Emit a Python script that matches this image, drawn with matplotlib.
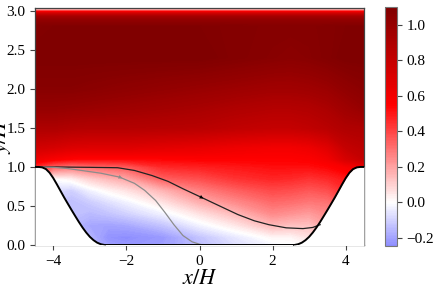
import numpy as np
import matplotlib
matplotlib.use("Agg")
import matplotlib.pyplot as plt
from matplotlib.colors import Normalize

plt.rcParams['font.family'] = ['Liberation Serif', 'DejaVu Serif']
plt.rcParams['mathtext.fontset'] = 'stix'

# ---- field table: rows = y levels, columns = x stations (U/Ub)
x_stations = [-4.5, -4.0, -3.5, -3.0, -2.5, -2.0, -1.0, 0.0, 1.0, 2.0, 2.5, 3.0, 3.5, 4.0, 4.5]
y_levels = [0.0, 0.1, 0.25, 0.4, 0.55, 0.7, 0.85, 1.0, 1.1, 1.25, 1.5, 1.75, 2.0,
            2.4, 2.8, 2.88, 2.93, 2.97, 2.99, 3.005, 3.02, 3.036]
u_field = [
    [-0.10, -0.10, -0.10, -0.15, -0.21, -0.23, -0.21, -0.14, -0.07, -0.02, -0.01, 0.02, 0.15, 0.20, 0.20],
    [-0.10, -0.10, -0.12, -0.16, -0.235, -0.244, -0.22, -0.13, -0.05, 0.02, 0.02, 0.06, 0.16, 0.22, 0.22],
    [-0.12, -0.12, -0.15, -0.19, -0.20, -0.19, -0.13, -0.03, 0.05, 0.15, 0.13, 0.13, 0.20, 0.25, 0.25],
    [-0.10, -0.12, -0.13, -0.15, -0.13, -0.10, -0.03, 0.06, 0.15, 0.25, 0.23, 0.21, 0.25, 0.30, 0.30],
    [-0.08, -0.12, -0.14, -0.11, -0.07, -0.03, 0.06, 0.17, 0.25, 0.32, 0.31, 0.29, 0.30, 0.38, 0.40],
    [-0.04, -0.07, -0.10, -0.03, 0.02, 0.06, 0.16, 0.27, 0.34, 0.39, 0.38, 0.36, 0.38, 0.45, 0.48],
    [0.30, 0.00, 0.03, 0.10, 0.15, 0.19, 0.34, 0.38, 0.44, 0.47, 0.46, 0.44, 0.46, 0.50, 0.55],
    [0.45, 0.33, 0.28, 0.31, 0.33, 0.35, 0.46, 0.48, 0.50, 0.52, 0.52, 0.52, 0.54, 0.58, 0.62],
    [0.62, 0.57, 0.54, 0.53, 0.53, 0.53, 0.54, 0.55, 0.55, 0.55, 0.55, 0.56, 0.60, 0.72, 0.80],
    [0.75, 0.73, 0.70, 0.69, 0.69, 0.69, 0.67, 0.65, 0.62, 0.60, 0.60, 0.62, 0.68, 0.80, 0.84],
    [0.90, 0.90, 0.88, 0.87, 0.87, 0.87, 0.86, 0.85, 0.82, 0.80, 0.80, 0.82, 0.85, 0.89, 0.90],
    [1.00, 1.00, 0.99, 0.98, 0.97, 0.96, 0.94, 0.92, 0.89, 0.87, 0.87, 0.88, 0.91, 0.96, 1.00],
    [1.06, 1.06, 1.06, 1.05, 1.04, 1.03, 1.01, 0.99, 0.97, 0.95, 0.95, 0.96, 0.98, 1.02, 1.05],
    [1.10, 1.10, 1.10, 1.10, 1.10, 1.10, 1.10, 1.10, 1.08, 1.06, 1.05, 1.06, 1.08, 1.10, 1.10],
    [1.08, 1.09, 1.09, 1.09, 1.09, 1.09, 1.09, 1.09, 1.08, 1.07, 1.07, 1.07, 1.08, 1.09, 1.09],
    [1.02, 1.02, 1.02, 1.02, 1.02, 1.02, 1.02, 1.02, 1.02, 1.02, 1.02, 1.02, 1.02, 1.02, 1.02],
    [0.92, 0.92, 0.92, 0.92, 0.92, 0.92, 0.92, 0.92, 0.92, 0.92, 0.92, 0.92, 0.92, 0.92, 0.92],
    [0.72, 0.72, 0.72, 0.72, 0.72, 0.72, 0.72, 0.72, 0.72, 0.72, 0.72, 0.72, 0.72, 0.72, 0.72],
    [0.55, 0.55, 0.55, 0.55, 0.55, 0.55, 0.55, 0.55, 0.55, 0.55, 0.55, 0.55, 0.55, 0.55, 0.55],
    [0.25, 0.25, 0.25, 0.25, 0.25, 0.25, 0.25, 0.25, 0.25, 0.25, 0.25, 0.25, 0.25, 0.25, 0.25],
    [0.10, 0.10, 0.10, 0.10, 0.10, 0.10, 0.10, 0.10, 0.10, 0.10, 0.10, 0.10, 0.10, 0.10, 0.10],
    [0.00, 0.00, 0.00, 0.00, 0.00, 0.00, 0.00, 0.00, 0.00, 0.00, 0.00, 0.00, 0.00, 0.00, 0.00],
]

# ---- hill profile: distance from crest (H) and height (H)
hill_d = [0.0, 0.1, 0.2, 0.3, 0.4, 0.5, 0.6, 0.7, 0.8, 0.9, 1.0, 1.1, 1.2, 1.3,
          1.4, 1.5, 1.6, 1.7, 1.8, 1.9, 1.929]
hill_h = [1.0, 1.0, 0.994, 0.972, 0.925, 0.857, 0.776, 0.691, 0.607, 0.527, 0.448,
          0.371, 0.295, 0.224, 0.160, 0.105, 0.062, 0.030, 0.010, 0.0005, 0.0]

# ---- streamlines
black_x = [-4.5, -4.0, -3.0, -2.24, -1.78, -1.3, -0.86, -0.45, 0.03, 0.55, 1.05, 1.5, 1.9, 2.37, 2.83, 3.1, 3.3]
black_y = [1.0, 1.0, 0.995, 0.99, 0.955, 0.89, 0.815, 0.72, 0.615, 0.5, 0.39, 0.31, 0.26, 0.22, 0.21, 0.225, 0.26]
gray_x = [-4.5, -4.0, -3.61, -2.70, -2.19, -1.78, -1.5, -1.2, -0.95, -0.7, -0.45, -0.2, 0.0, 0.1]
gray_y = [1.0, 0.995, 0.98, 0.92, 0.87, 0.79, 0.7, 0.57, 0.42, 0.26, 0.12, 0.04, 0.01, 0.0]

cbar_ticks = [-0.2, 0.0, 0.2, 0.4, 0.6, 0.8, 1.0]
x_ticks = [-4, -2, 0, 2, 4]
y_ticks = [0.0, 0.5, 1.0, 1.5, 2.0, 2.5, 3.0]

W, Hpx = 446, 290
fig = plt.figure(figsize=(W / 100, Hpx / 100), dpi=100)
ax = fig.add_axes([35 / W, 45 / Hpx, 329 / W, 237 / Hpx])
cax = fig.add_axes([385 / W, 44 / Hpx, 12 / W, 239 / Hpx])

X, Y = np.meshgrid(x_stations, y_levels)
U = np.array(u_field)
levels = np.linspace(-0.245, 1.1005, 256)
norm = Normalize(vmin=-1.1005, vmax=1.1005)
cf = ax.contourf(X, Y, U, levels=levels, cmap='seismic', norm=norm, antialiased=False)

hd = np.array(hill_d)
hh = np.array(hill_h)
lx = -4.5 + hd
rx = 4.5 - hd
ax.fill_between(lx, -0.1, hh, color='white', zorder=3, lw=0)
ax.fill_between(rx, -0.1, hh, color='white', zorder=3, lw=0)
ax.fill_between([lx[-1], rx[-1]], -0.1, 0.0, color='white', zorder=3, lw=0)
ax.plot(np.concatenate([lx, rx[::-1]]), np.concatenate([hh, hh[::-1]]), color='black', lw=1.4, zorder=5)

ax.plot(black_x, black_y, color='#222222', lw=0.9, zorder=4)
ax.plot(gray_x, gray_y, color='#8c8c8c', lw=0.9, zorder=4)
ax.annotate('', xy=(black_x[8] + 0.08, black_y[8] - 0.02), xytext=(black_x[8] - 0.05, black_y[8] + 0.013),
            arrowprops=dict(arrowstyle='-|>', color='black', lw=0, mutation_scale=7), zorder=6)
ax.annotate('', xy=(gray_x[4] + 0.08, gray_y[4] - 0.015), xytext=(gray_x[4] - 0.05, gray_y[4] + 0.01),
            arrowprops=dict(arrowstyle='-|>', color='#8c8c8c', lw=0, mutation_scale=7), zorder=6)

ax.set_xlim(-4.5, 4.5)
ax.set_ylim(0, 3.036)
ax.set_xticks(x_ticks)
ax.set_yticks(y_ticks)
ax.set_xticklabels([f'\u2212{abs(t)}' if t < 0 else f'{t}' for t in x_ticks])
ax.set_yticklabels([f'{t:.1f}' for t in y_ticks])
ax.tick_params(labelsize=11, length=3.5, width=0.8, color='#444444')
for s in ax.spines.values():
    s.set_color('#444444')
    s.set_linewidth(0.9)
ax.set_xlabel('$x/H$', fontsize=16)
ax.xaxis.set_label_coords(0.5, -0.105)
ax.xaxis.label.set_va('top')
ax.set_ylabel('$y/H$', fontsize=16)
ax.yaxis.set_label_coords(-0.068, 0.46)

cb = fig.colorbar(cf, cax=cax, ticks=cbar_ticks)
cb.ax.set_yticklabels([f'\u2212{abs(t):.1f}' if t < 0 else f'{t:.1f}' for t in cbar_ticks])
cb.ax.tick_params(labelsize=11, length=3.5, width=0.8, color='#444444')
cb.outline.set_edgecolor('#777777')

fig.savefig('out.png', dpi=100)
